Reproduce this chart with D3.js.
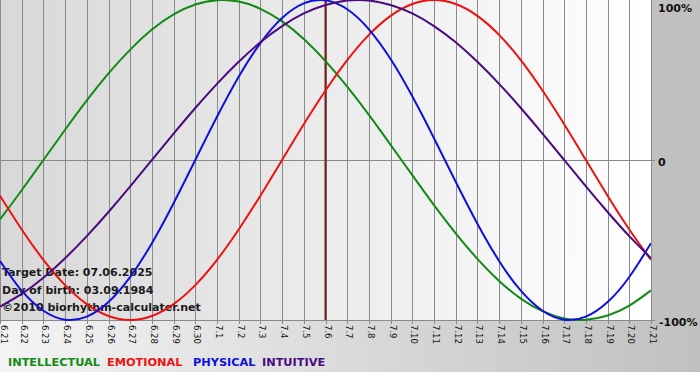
<!DOCTYPE html>
<html><head><meta charset="utf-8">
<script src="https://cdn.jsdelivr.net/npm/d3@7"></script>
<style>html,body{margin:0;padding:0;background:#fff;}svg{display:block;}</style>
</head><body>
<svg id="c" width="700" height="380"></svg>
<script>
// ---- data (fraction of 100%) ----
const dayLabels = ["6.21","6.22","6.23","6.24","6.25","6.26","6.27","6.28","6.29","6.30",
  "7.1","7.2","7.3","7.4","7.5","7.6","7.7","7.8","7.9","7.10","7.11","7.12","7.13","7.14",
  "7.15","7.16","7.17","7.18","7.19","7.20","7.21"];
const intellectual = [-0.372,-0.189,0,0.189,0.372,0.541,0.690,0.815,0.910,0.972,0.999,0.990,0.945,0.866,0.756,0.618,0.458,0.282,0.095,-0.095,-0.282,-0.458,-0.618,-0.756,-0.866,-0.945,-0.990,-0.999,-0.972,-0.910,-0.815];
const emotional = [-0.223,-0.434,-0.624,-0.782,-0.901,-0.975,-1,-0.975,-0.901,-0.782,-0.624,-0.434,-0.223,0,0.223,0.434,0.624,0.782,0.901,0.975,1,0.975,0.901,0.782,0.624,0.434,0.223,0,-0.223,-0.434,-0.624];
const physical = [-0.631,-0.817,-0.942,-0.998,-0.979,-0.888,-0.731,-0.520,-0.270,0,0.270,0.520,0.731,0.888,0.979,0.998,0.942,0.817,0.631,0.398,0.136,-0.136,-0.398,-0.631,-0.817,-0.942,-0.998,-0.979,-0.888,-0.731,-0.520];
const intuitive = [-0.916,-0.837,-0.736,-0.614,-0.476,-0.325,-0.165,0,0.165,0.325,0.476,0.614,0.736,0.837,0.916,0.969,0.997,0.997,0.969,0.916,0.837,0.736,0.614,0.476,0.325,0.165,0,-0.165,-0.325,-0.476,-0.614];
const targetIndex = 15;
const yTicks = [1, 0, -1];
const yTickLabels = ["100%", "0", "-100%"];
const seriesNames = ["INTELLECTUAL","EMOTIONAL","PHYSICAL","INTUITIVE"];
const infoLines = ["Target Date: 07.06.2025","Day of birth: 03.09.1984","\u00a92010 biorhythm-calculater.net"];

// ---- drawing ----
const svg = d3.select("#c");
const W = 651, H = 320;
const x = d3.scaleLinear().domain([0, dayLabels.length - 1]).range([0, W]);
const y = d3.scaleLinear().domain([-1, 1]).range([H, 0]);
const defs = svg.append("defs");
const g1 = defs.append("linearGradient").attr("id","plotbg").attr("x1","0").attr("x2","1").attr("y1","0").attr("y2","0");
g1.append("stop").attr("offset","0").attr("stop-color","#d8d8d8");
g1.append("stop").attr("offset","1").attr("stop-color","#ffffff");
const g2 = defs.append("linearGradient").attr("id","botbg").attr("x1","0").attr("x2","1").attr("y1","0").attr("y2","0");
g2.append("stop").attr("offset","0").attr("stop-color","#f4f4f4");
g2.append("stop").attr("offset","1").attr("stop-color","#c0c0c0");
defs.append("clipPath").attr("id","clip").append("rect").attr("x",0).attr("y",-2).attr("width",W).attr("height",H+4);

svg.append("rect").attr("x",0).attr("y",H).attr("width",700).attr("height",52).attr("fill","url(#botbg)");
svg.append("rect").attr("x",W).attr("y",0).attr("width",700-W).attr("height",H).attr("fill","#c0c0c0");
svg.append("rect").attr("x",0).attr("y",0).attr("width",W).attr("height",H).attr("fill","url(#plotbg)");

// vertical grid + ticks
svg.append("g").selectAll("line").data(dayLabels).join("line")
  .attr("x1",(d,i)=>Math.round(x(i))+0.5).attr("x2",(d,i)=>Math.round(x(i))+0.5)
  .attr("y1",0).attr("y2",H+4).attr("stroke","#8a8a8a").attr("stroke-width",1);
// horizontal lines
svg.append("g").selectAll("line").data(yTicks.filter(d=>d!==1)).join("line")
  .attr("x1",0).attr("x2",W+4).attr("y1",d=>Math.round(y(d))+0.5).attr("y2",d=>Math.round(y(d))+0.5)
  .attr("stroke","#8a8a8a").attr("stroke-width",1);

// x labels
svg.append("g").selectAll("text").data(dayLabels).join("text")
  .attr("transform",(d,i)=>`translate(${Math.max(Math.round(x(i))+1, 3)},${H+5}) rotate(90)`)
  .attr("dominant-baseline","middle").attr("font-family","DejaVu Sans").attr("font-size",8.5)
  .attr("fill","#111").text(d=>d);

// y labels
const yOff = [12, 166, 326];
svg.append("g").selectAll("text").data(yTicks).join("text")
  .attr("x",(d,i)=> i===2 ? 659 : 658).attr("y",(d,i)=>yOff[i] + (y(d) - y(d)))
  .attr("font-family","DejaVu Sans").attr("font-weight","bold").attr("font-size",11)
  .attr("fill","#111").text((d,i)=>yTickLabels[i]);

// target line
svg.append("line").attr("x1",x(targetIndex)).attr("x2",x(targetIndex)).attr("y1",0).attr("y2",H)
  .attr("stroke","#7a1f1f").attr("stroke-width",2);

// info text
svg.append("g").selectAll("text").data(infoLines).join("text")
  .attr("x",2).attr("y",(d,i)=>276 + i*17.5)
  .attr("font-family","DejaVu Sans").attr("font-weight","bold").attr("font-size",11)
  .attr("fill","#1a1a1a").text(d=>d);

// series
const series = [
  {v: intellectual, c: "#138a13"},
  {v: emotional, c: "#ee1111"},
  {v: physical, c: "#1010dd"},
  {v: intuitive, c: "#4a0a80"}
];
const line = d3.line().x((d,i)=>x(i)).y(d=>y(d)).curve(d3.curveNatural);
const lg = svg.append("g").attr("clip-path","url(#clip)");
series.forEach(s => {
  lg.append("path").attr("d", line(s.v)).attr("fill","none").attr("stroke", s.c).attr("stroke-width",2);
});

// legend
const lx = [8, 107, 193, 262];
svg.append("g").selectAll("text").data(seriesNames).join("text")
  .attr("x",(d,i)=>lx[i]).attr("y",366)
  .attr("font-family","DejaVu Sans").attr("font-weight","bold").attr("font-size",11.3)
  .attr("fill",(d,i)=>series[i].c).text(d=>d);
</script>
</body></html>
